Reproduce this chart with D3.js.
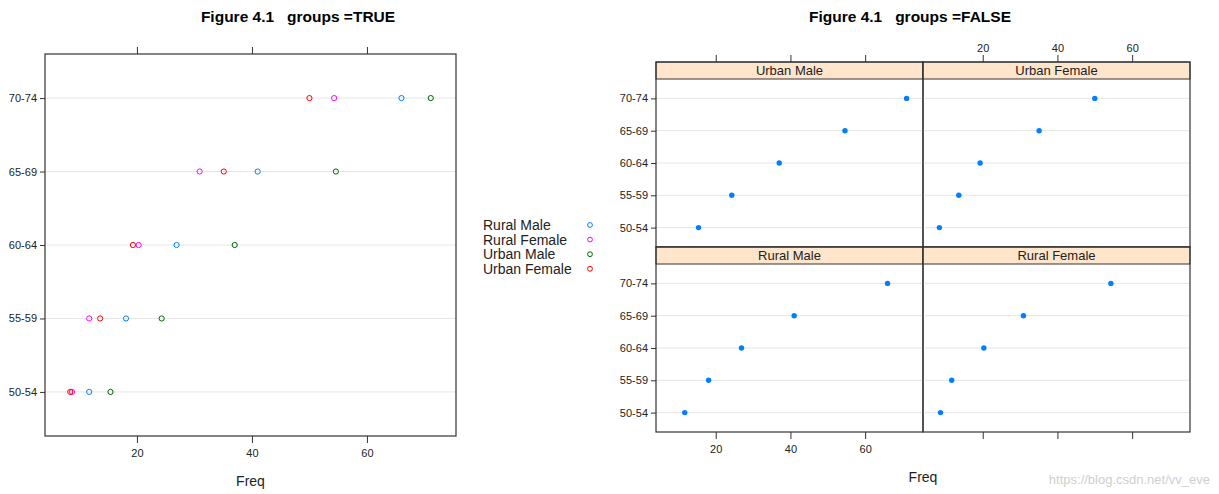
<!DOCTYPE html>
<html>
<head>
<meta charset="utf-8">
<script src="https://cdn.jsdelivr.net/npm/d3@7"></script>
<style>
  body { margin: 0; background: #fff; }
  svg { font-family: "Liberation Sans", Arial, sans-serif; }
  .title { white-space: pre; }
</style>
</head>
<body>
<svg id="chart" width="1219" height="494"></svg>
<script>
// VADeaths
const ageGroups = ['50-54', '55-59', '60-64', '65-69', '70-74'];
const seriesNames = ['Rural Male', 'Rural Female', 'Urban Male', 'Urban Female'];
const ruralMale = [11.7, 18.1, 26.9, 41.0, 66.0];
const ruralFemale = [8.7, 11.7, 20.3, 30.9, 54.3];
const urbanMale = [15.4, 24.3, 37.0, 54.6, 71.1];
const urbanFemale = [8.4, 13.6, 19.3, 35.1, 50.0];
const xTicks = [20, 40, 60];

const seriesValues = [ruralMale, ruralFemale, urbanMale, urbanFemale];
const colors = ['#0080ff', '#ff00ff', '#006400', '#ff0000'];
const axisCol = '#333';
const gridCol = '#e6e6e6';

const svg = d3.select('#chart');

// lattice style range: extend 7%
const allVals = seriesValues.flat();
const lo = d3.min(allVals), hi = d3.max(allVals);
const pad = (hi - lo) * 0.07;
const xDomain = [lo - pad, hi + pad];

const tickFont = a => a.selectAll('text').style('font-size', '11px').attr('fill', '#222')
  .style('font-family', '"Liberation Sans Narrow", "Liberation Sans", Arial, sans-serif');

// ---------- Left: groups = TRUE ----------
{
  const L = 45, R = 456, T = 54, B = 436;
  const x = d3.scaleLinear().domain(xDomain).range([L, R]);
  const y = d3.scaleLinear().domain([0.4, 5.6]).range([B, T]);

  svg.append('text')
    .attr('class', 'title')
    .attr('x', 298).attr('y', 22)
    .attr('text-anchor', 'middle')
    .style('font-size', '15.5px').style('font-weight', 'bold')
    .text('Figure 4.1   groups =TRUE');

  const g = svg.append('g');
  g.selectAll('line.grid')
    .data(ageGroups)
    .join('line')
    .attr('x1', L).attr('x2', R)
    .attr('y1', (d, i) => y(i + 1)).attr('y2', (d, i) => y(i + 1))
    .attr('stroke', gridCol);

  seriesValues.forEach((vals, si) => {
    g.selectAll(null)
      .data(vals)
      .join('circle')
      .attr('cx', d => x(d))
      .attr('cy', (d, i) => y(i + 1))
      .attr('r', 2.6)
      .attr('fill', 'none')
      .attr('stroke', colors[si])
      .attr('stroke-width', 1);
  });

  g.append('rect')
    .attr('x', L).attr('y', T).attr('width', R - L).attr('height', B - T)
    .attr('fill', 'none').attr('stroke', axisCol).attr('stroke-width', 1.2);

  const bottom = d3.axisBottom(x).tickValues(xTicks).tickSize(7).tickPadding(6);
  const top = d3.axisTop(x).tickValues(xTicks).tickSize(7).tickFormat('');
  const left = d3.axisLeft(y).tickValues([1, 2, 3, 4, 5]).tickSize(5).tickPadding(3)
    .tickFormat(d => ageGroups[d - 1]);

  [[bottom, `translate(0,${B})`], [top, `translate(0,${T})`], [left, `translate(${L},0)`]]
    .forEach(([ax, tr]) => {
      const a = g.append('g').attr('transform', tr).call(ax);
      a.select('.domain').remove();
      a.selectAll('line').attr('stroke', axisCol);
      tickFont(a);
    });

  svg.append('text')
    .attr('x', (L + R) / 2).attr('y', 486)
    .attr('text-anchor', 'middle')
    .style('font-size', '14px').attr('fill', '#222')
    .text('Freq');

  // legend
  const leg = svg.append('g');
  seriesNames.forEach((s, i) => {
    const yy = 225 + i * 14.6;
    leg.append('text')
      .attr('x', 483).attr('y', yy + 5)
      .style('font-size', '14px').attr('fill', '#222')
      .text(s);
    leg.append('circle')
      .attr('cx', 590).attr('cy', yy)
      .attr('r', 2.4).attr('fill', 'none')
      .attr('stroke', colors[i]);
  });
}

// ---------- Right: groups = FALSE ----------
{
  const colW = 267, L0 = 656;
  const panelTops = [62, 247];
  const panelH = 185, stripH = 17;
  const panels = [
    { name: 'Urban Male', vals: urbanMale, col: 0, row: 0 },
    { name: 'Urban Female', vals: urbanFemale, col: 1, row: 0 },
    { name: 'Rural Male', vals: ruralMale, col: 0, row: 1 },
    { name: 'Rural Female', vals: ruralFemale, col: 1, row: 1 }
  ];

  svg.append('text')
    .attr('class', 'title')
    .attr('x', 910).attr('y', 22)
    .attr('text-anchor', 'middle')
    .style('font-size', '15.5px').style('font-weight', 'bold')
    .text('Figure 4.1   groups =FALSE');

  const g = svg.append('g');

  panels.forEach(p => {
    const L = L0 + p.col * colW, R = L + colW;
    const T = panelTops[p.row], B = T + panelH;
    const x = d3.scaleLinear().domain(xDomain).range([L, R]);
    const y = d3.scaleLinear().domain([0.4, 5.6]).range([B, T + stripH]);

    const pg = g.append('g');
    pg.selectAll('line.grid')
      .data(ageGroups)
      .join('line')
      .attr('x1', L).attr('x2', R)
      .attr('y1', (d, i) => y(i + 1)).attr('y2', (d, i) => y(i + 1))
      .attr('stroke', gridCol);

    pg.selectAll('circle')
      .data(p.vals)
      .join('circle')
      .attr('cx', d => x(d))
      .attr('cy', (d, i) => y(i + 1))
      .attr('r', 2.7)
      .attr('fill', '#0080ff');

    pg.append('rect')
      .attr('x', L).attr('y', T).attr('width', colW).attr('height', stripH)
      .attr('fill', '#ffe5cc').attr('stroke', axisCol).attr('stroke-width', 1);
    pg.append('text')
      .attr('x', (L + R) / 2).attr('y', T + stripH / 2 + 4.5)
      .attr('text-anchor', 'middle')
      .style('font-size', '13px').attr('fill', '#222')
      .text(p.name);

    pg.append('rect')
      .attr('x', L).attr('y', T).attr('width', colW).attr('height', panelH)
      .attr('fill', 'none').attr('stroke', axisCol).attr('stroke-width', 1.2);

    if (p.row === 1) {
      const ax = d3.axisBottom(x).tickValues(xTicks).tickSize(7).tickPadding(6);
      if (p.col === 1) ax.tickFormat('');
      const a = pg.append('g').attr('transform', `translate(0,${B})`).call(ax);
      a.select('.domain').remove();
      a.selectAll('line').attr('stroke', axisCol);
      tickFont(a);
    }
    if (p.row === 0) {
      const ax = d3.axisTop(x).tickValues(xTicks).tickSize(7).tickPadding(3);
      if (p.col === 0) ax.tickFormat('');
      const a = pg.append('g').attr('transform', `translate(0,${T})`).call(ax);
      a.select('.domain').remove();
      a.selectAll('line').attr('stroke', axisCol);
      tickFont(a);
    }
    if (p.col === 0) {
      const ax = d3.axisLeft(y).tickValues([1, 2, 3, 4, 5]).tickSize(5).tickPadding(3)
        .tickFormat(d => ageGroups[d - 1]);
      const a = pg.append('g').attr('transform', `translate(${L},0)`).call(ax);
      a.select('.domain').remove();
      a.selectAll('line').attr('stroke', axisCol);
      tickFont(a);
    }
  });

  svg.append('text')
    .attr('x', L0 + colW).attr('y', 482)
    .attr('text-anchor', 'middle')
    .style('font-size', '14px').attr('fill', '#222')
    .text('Freq');

  svg.append('text')
    .attr('x', 1210).attr('y', 484)
    .attr('text-anchor', 'end')
    .style('font-size', '13px').attr('fill', '#d0d0d0')
    .text('https://blog.csdn.net/vv_eve');
}
</script>
</body>
</html>
